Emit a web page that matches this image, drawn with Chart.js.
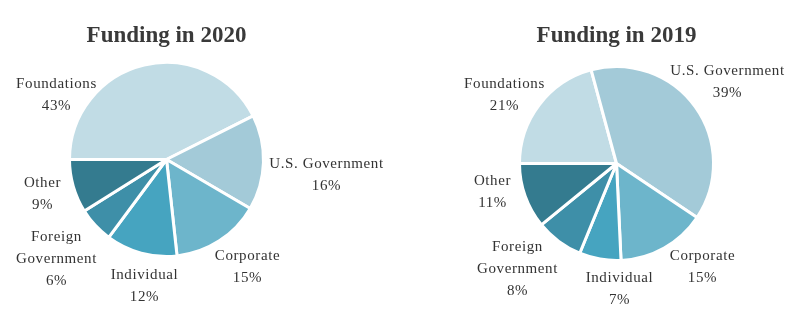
<!DOCTYPE html>
<html>
<head>
<meta charset="utf-8">
<script src="https://cdn.jsdelivr.net/npm/chart.js@4"></script>
<style>
  body { margin: 0; background: #fff; }
  .wrap { position: relative; width: 800px; height: 330px; }
  .box { position: absolute; top: 0; width: 400px; height: 330px; }
</style>
</head>
<body>
<div class="wrap">
  <div class="box" style="left:0"><canvas id="pie2020"></canvas></div>
  <div class="box" style="left:400px"><canvas id="pie2019"></canvas></div>
</div>
<script>
// Funding sources (share of total, %)
const categories = ["Foundations", "U.S. Government", "Corporate", "Individual", ["Foreign", "Government"], "Other"];
const funding2020 = [43, 16, 15, 12, 6, 9];
const funding2019 = [21, 39, 15, 7, 8, 11];
const sliceColors = ["#c1dce5", "#a3cad8", "#6db5cb", "#46a4c0", "#3e8fa8", "#347b8f"];

// draws the title and the text next to each slice
const sliceLabels = {
  id: "sliceLabels",
  afterDraw(chart, args, opts) {
    const ctx = chart.ctx;
    const arc = chart.getDatasetMeta(0).data[0];
    const cx = arc.x, cy = arc.y;
    const values = chart.data.datasets[0].data;
    ctx.save();
    ctx.fillStyle = "#3a3a3a";
    ctx.textAlign = "center";
    ctx.textBaseline = "middle";
    ctx.font = "bold 23px 'Liberation Serif'";
    ctx.fillText(opts.title, cx, 36);
    ctx.fillStyle = "#333333";
    ctx.font = "15px 'Liberation Serif'";
    ctx.letterSpacing = "0.6px";
    chart.data.labels.forEach((name, i) => {
      const lines = [].concat(name, values[i] + "%");
      const [dx, dy] = opts.offsets[i];
      const top = cy + dy - (lines.length - 1) * 11;
      lines.forEach((t, j) => ctx.fillText(t, cx + dx, top + j * 22));
    });
    ctx.restore();
  }
};

function makePie(id, values, title, padding, offsets) {
  new Chart(document.getElementById(id).getContext("2d"), {
    type: "pie",
    data: {
      labels: categories,
      datasets: [
        {
          data: values,
          backgroundColor: sliceColors,
          borderColor: "#ffffff",
          borderWidth: 3,
        },
      ],
    },
    options: {
      responsive: true,
      maintainAspectRatio: false,
      animation: false,
      rotation: -90,
      layout: { padding: padding },
      plugins: {
        legend: { display: false },
        tooltip: { enabled: false },
        sliceLabels: { title: title, offsets: offsets },
      },
    },
    plugins: [sliceLabels],
  });
}

makePie("pie2020", funding2020, "Funding in 2020",
  { left: 68, right: 135, top: 61, bottom: 72 },
  [[-110, -64], [160, 16], [81, 108], [-22, 127], [-110, 100], [-124, 35]]);

makePie("pie2019", funding2019, "Funding in 2019",
  { left: 118, right: 85, top: 65, bottom: 68 },
  [[-112, -68], [111, -81], [86, 104], [3, 126], [-99, 106], [-124, 29]]);
</script>
</body>
</html>
